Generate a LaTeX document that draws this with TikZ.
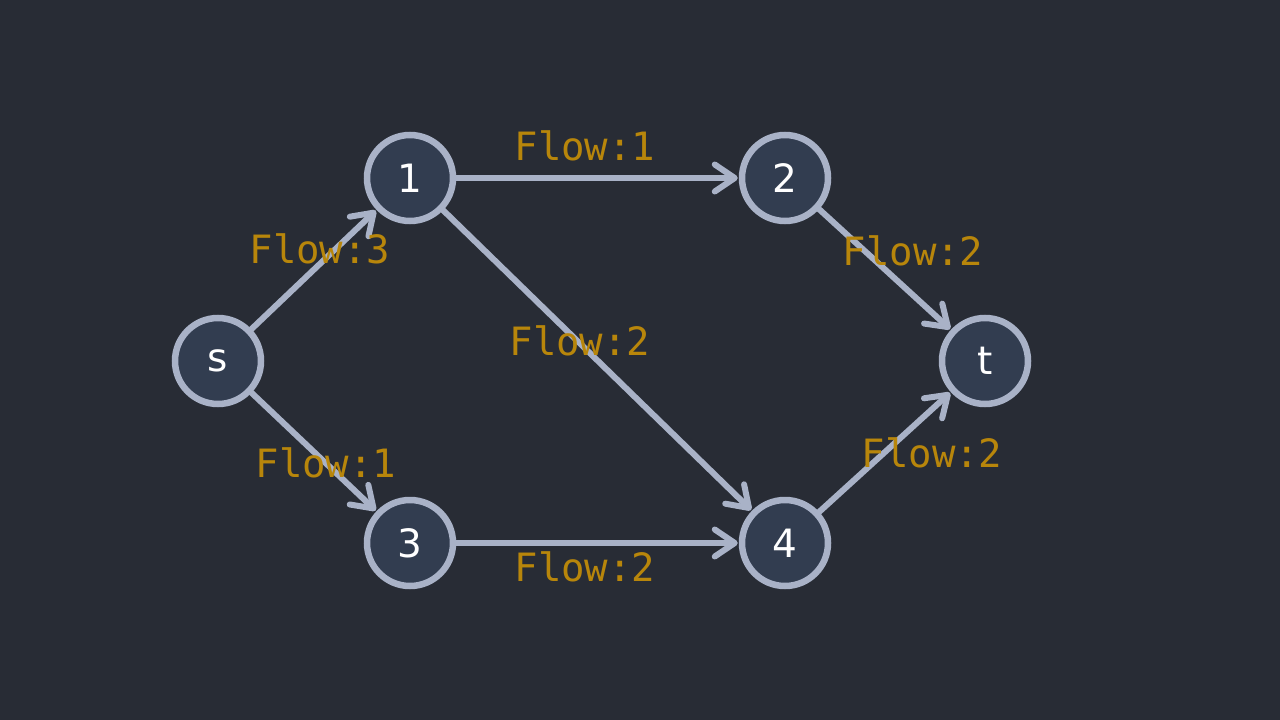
\documentclass[tikz,border=0pt]{standalone}
\usepackage{fontspec}
\setmainfont{DejaVu Sans}
\newfontfamily\flowfont{DejaVu Sans Mono}
\usetikzlibrary{arrows.meta}
\definecolor{bg}{HTML}{282C35}
\definecolor{nodefill}{HTML}{323D50}
\definecolor{edgecol}{HTML}{A9B2C7}
\definecolor{gold}{HTML}{B8860B}
\tikzset{
  vtx/.style={circle, draw=edgecol, fill=nodefill, line width=6.5pt, minimum size=86pt, inner sep=0pt, text=white, font=\fontsize{39}{39}\selectfont},
  flowedge/.style={draw=edgecol, line width=6pt, line cap=round, shorten >=1pt, -{Straight Barb[length=20pt,width=27pt,line cap=round,line join=round]}},
  flowlabel/.style={text=gold, font=\flowfont\fontsize{39}{39}\selectfont}
}
\begin{document}
\begin{tikzpicture}[x=1pt,y=-1pt]
\fill[bg] (0,0) rectangle (1280,720);
\useasboundingbox (0,0) rectangle (1280,720);
\node[vtx] (s) at (218,361) {s};
\node[vtx] (n1) at (410,178) {1};
\node[vtx] (n2) at (785,178) {2};
\node[vtx] (t) at (985,361) {t};
\node[vtx] (n3) at (410,543) {3};
\node[vtx] (n4) at (785,543) {4};
\draw[flowedge] (s) -- (n1);
\draw[flowedge] (s) -- (n3);
\draw[flowedge] (n1) -- (n2);
\draw[flowedge] (n1) -- (n4);
\draw[flowedge] (n2) -- (t);
\draw[flowedge] (n3) -- (n4);
\draw[flowedge] (n4) -- (t);
\node[flowlabel] (l12) at (585,146) {Flow:1};
\node[flowlabel] (ls1) at (320,249) {Flow:3};
\node[flowlabel] (l14) at (580,341) {Flow:2};
\node[flowlabel] (l2t) at (913,251) {Flow:2};
\node[flowlabel] (ls3) at (326,463) {Flow:1};
\node[flowlabel] (l34) at (585,567) {Flow:2};
\node[flowlabel] (l4t) at (932,453) {Flow:2};
\end{tikzpicture}
\end{document}
